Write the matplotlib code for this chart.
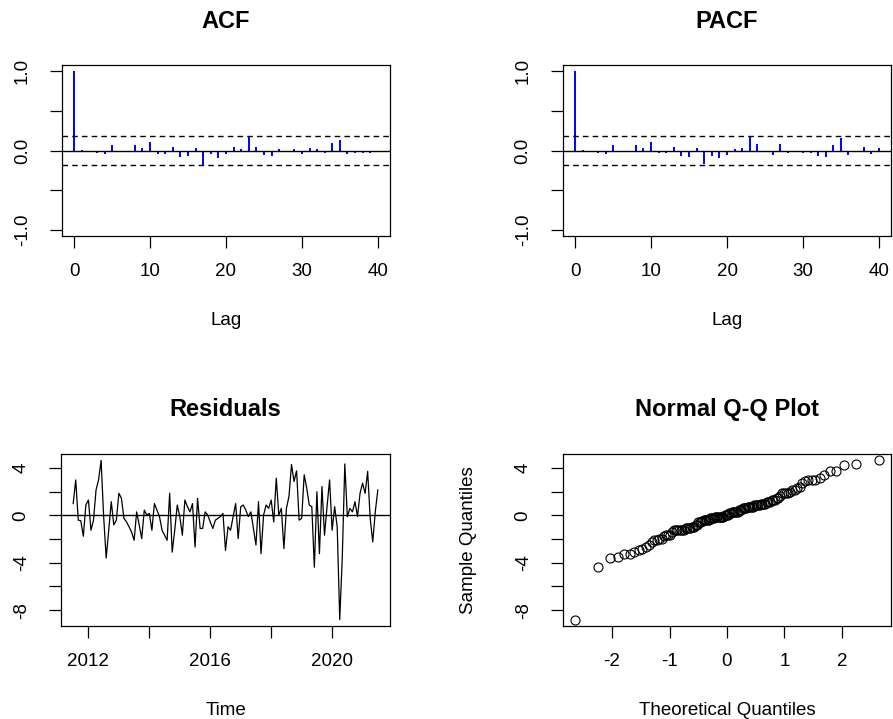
import matplotlib
matplotlib.use("Agg")
import matplotlib.pyplot as plt
import numpy as np
from statistics import NormalDist

plt.rcParams['font.family'] = ['Liberation Sans', 'DejaVu Sans']

# ACF / PACF of the residuals, lags 0..40
lags = list(range(41))
acf_vals = [1.0, 0.003, -0.02, -0.03, -0.046, 0.07, -0.02, -0.02, 0.068, 0.034,
            0.105, -0.046, -0.046, 0.042, -0.084, -0.072, 0.03, -0.177, -0.046, -0.097,
            -0.046, 0.042, 0.017, 0.177, 0.042, -0.062, -0.072, 0.02, -0.02, 0.02,
            -0.046, 0.03, 0.017, -0.034, 0.093, 0.127, -0.046, -0.034, -0.034, -0.034,
            -0.02]
pacf_vals = [1.0, 0.003, -0.017, -0.034, -0.046, 0.067, -0.017, -0.017, 0.067, 0.034,
             0.105, -0.034, -0.034, 0.042, -0.071, -0.084, 0.034, -0.176, -0.071, -0.097,
             -0.059, 0.021, 0.034, 0.189, 0.084, -0.017, -0.059, 0.08, -0.029, -0.017,
             -0.029, -0.034, -0.071, -0.084, 0.067, 0.155, -0.059, -0.017, 0.042, -0.046,
             0.034]

# monthly residuals, Jul 2011 .. Jul 2021
start_year = 2011.5
resid = [1.0, 3.0, -0.4, -0.45, -1.76, 0.9, 1.3, -1.25, -0.4, 2.15,
         3.0, 4.65, -0.1, -3.6, -1.25, 1.16, -0.8, -0.4, 1.87, 1.45,
         -0.25, -0.55, -0.96, -1.4, -2.1, 0.3, -0.8, -1.96, 0.45, 0.03,
         0.17, -1.25, 1.0, 0.45, -0.1, -1.25, -1.67, -2.1, 1.87, -3.1,
         -1.25, 0.88, -0.1, -1.67, 1.3, 0.74, 0.3, 1.0, -2.67, 1.45,
         -1.1, -1.1, 0.3, 0.03, -0.55, -1.1, -0.4, -0.25, -0.1, 0.17,
         -2.95, -0.96, -1.25, -0.1, 1.0, -1.96, 0.74, 0.88, 0.45, -0.1,
         0.3, -1.1, -2.5, 1.16, -3.23, 0.03, 0.88, 0.6, 1.3, -0.55,
         3.15, 0.03, 0.6, -2.8, 0.6, 1.6, 4.3, 2.87, 3.77, -0.4,
         -0.25, 3.43, 2.3, 0.88, 0.74, -4.37, 2.0, -3.23, 2.44, -1.67,
         0.74, 3.0, -1.25, 0.74, -0.96, -8.8, -3.55, 4.35, -0.1, 0.6,
         0.3, 1.16, -0.1, 1.87, 2.72, 1.87, 3.72, -0.25, -2.24, 0.3,
         2.15]

W, H = 893, 719
fig = plt.figure(figsize=(W / 100, H / 100), dpi=100)

TICK_FS = 13.5
LABEL_FS = 13.5
TITLE_FS = 17


def make_axes(left, top, right, bottom):
    return fig.add_axes([left / W, 1 - bottom / H, (right - left) / W, (bottom - top) / H])


def style(ax, title, xlabel, ylabel=None):
    for s in ax.spines.values():
        s.set_color('black')
        s.set_linewidth(0.9)
    ax.tick_params(axis='both', direction='out', length=8.5, width=0.9,
                   labelsize=TICK_FS, top=False, right=False)
    ax.tick_params(axis='x', pad=11)
    ax.tick_params(axis='y', pad=14, labelrotation=90)
    for lab in ax.get_yticklabels():
        lab.set_va('center')
    ax.set_title(title, fontsize=TITLE_FS, fontweight='bold', pad=27)
    ax.set_xlabel(xlabel, fontsize=LABEL_FS, labelpad=23)
    if ylabel:
        ax.set_ylabel(ylabel, fontsize=LABEL_FS, labelpad=27)


def padded(lo, hi):
    p = 0.04 * (hi - lo)
    return lo - p, hi + p


n = len(resid)
ci = 1.96 / np.sqrt(n)


def corr_panel(ax, vals, title):
    ax.vlines(lags, 0, vals, color='#0000FF', linewidth=1.4)
    ax.axhline(0, color='black', linewidth=1.0)
    for c in (ci, -ci):
        ax.axhline(c, color='black', linewidth=1.0, linestyle=(0, (4, 3)))
    ax.set_xlim(*padded(0, 40))
    ax.set_ylim(*padded(-1, 1))
    ax.set_xticks([0, 10, 20, 30, 40])
    ax.set_xticklabels(['0', '10', '20', '30', '40'])
    ax.set_yticks([-1.0, -0.5, 0.0, 0.5, 1.0])
    ax.set_yticklabels(['-1.0', '', '0.0', '', '1.0'])
    style(ax, title, 'Lag')


ax1 = make_axes(62, 65, 390, 236)
corr_panel(ax1, acf_vals, 'ACF')

ax2 = make_axes(563, 65, 891, 236)
corr_panel(ax2, pacf_vals, 'PACF')

# residual time series
ax3 = make_axes(61, 454, 390, 626)
t = start_year + np.arange(n) / 12
ax3.plot(t, resid, color='black', linewidth=0.9)
ax3.axhline(0, color='black', linewidth=1.0)
ax3.set_xlim(*padded(t[0], t[-1]))
ax3.set_ylim(*padded(min(resid), max(resid)))
ax3.set_xticks([2012, 2014, 2016, 2018, 2020])
ax3.set_xticklabels(['2012', '', '2016', '', '2020'])
ax3.set_yticks([-8, -6, -4, -2, 0, 2, 4])
ax3.set_yticklabels(['-8', '', '-4', '', '0', '', '4'])
style(ax3, 'Residuals', 'Time')

# normal Q-Q plot
ax4 = make_axes(563, 454, 891, 626)
sample = np.sort(resid)
nd = NormalDist()
theo = np.array([nd.inv_cdf((i + 0.5) / n) for i in range(n)])
ax4.plot(theo, sample, linestyle='none', marker='o', markersize=6.5,
         markerfacecolor='none', markeredgecolor='black', markeredgewidth=0.8)
ax4.set_xlim(*padded(theo.min(), theo.max()))
ax4.set_ylim(*padded(sample.min(), sample.max()))
ax4.set_xticks([-2, -1, 0, 1, 2])
ax4.set_xticklabels(['-2', '-1', '0', '1', '2'])
ax4.set_yticks([-8, -6, -4, -2, 0, 2, 4])
ax4.set_yticklabels(['-8', '', '-4', '', '0', '', '4'])
style(ax4, 'Normal Q-Q Plot', 'Theoretical Quantiles', 'Sample Quantiles')

fig.savefig('out.png', dpi=100)
